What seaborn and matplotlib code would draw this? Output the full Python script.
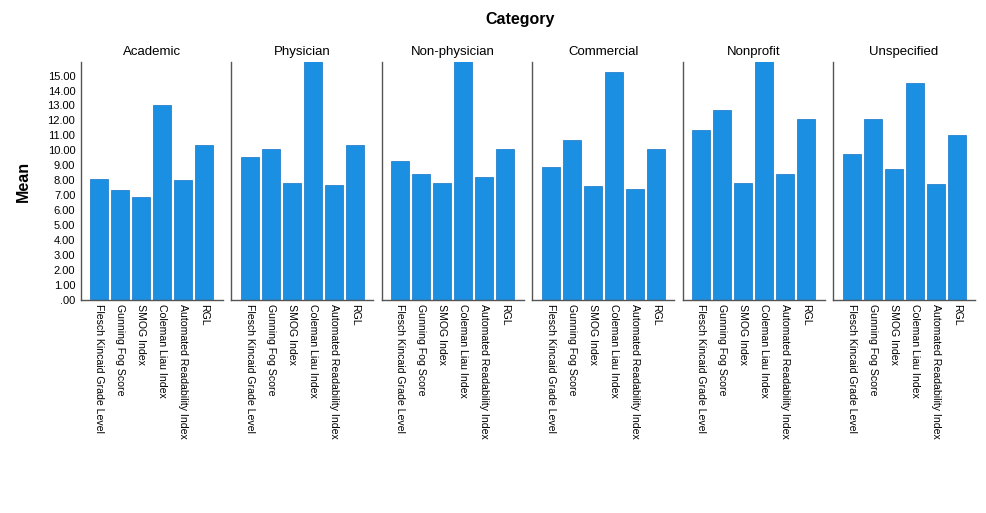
import pandas as pd
import matplotlib
matplotlib.use('Agg')
import matplotlib.pyplot as plt
import seaborn as sns

# ── Data ─────────────────────────────────────────────────────────────────────
categories = ['Academic', 'Physician', 'Non-physician', 'Commercial', 'Nonprofit', 'Unspecified']
measures = ['Flesch Kincaid Grade Level', 'Gunning Fog Score', 'SMOG Index',
            'Coleman Liau Index', 'Automated Readability Index', 'RGL']

academic = [8.07, 7.33, 6.87, 13.04, 8.04, 10.38]
physician = [9.56, 10.09, 7.82, 16.60, 7.71, 10.33]
non_physician = [9.29, 8.44, 7.84, 16.90, 8.22, 10.07]
commercial = [8.89, 10.67, 7.64, 15.27, 7.44, 10.07]
nonprofit = [11.38, 12.67, 7.84, 17.20, 8.44, 12.07]
unspecified = [9.76, 12.07, 8.78, 14.49, 7.73, 11.04]

y_ticks = [i for i in range(16)]
y_tick_labels = ['.00'] + [f'{i}.00' for i in range(1, 16)]

series = [academic, physician, non_physician, commercial, nonprofit, unspecified]
df = pd.DataFrame([
    {'Category': c, 'Measure': m, 'Mean': v}
    for c, vals in zip(categories, series)
    for m, v in zip(measures, vals)
])

# ── Plot ──────────────────────────────────────────────────────────────────────
sns.set_style('white')
plt.rcParams['font.family'] = ['Liberation Sans', 'DejaVu Sans']
plt.rcParams.update({'text.color': 'black', 'axes.labelcolor': 'black',
                     'xtick.color': 'black', 'ytick.color': 'black'})

fig = plt.figure(figsize=(9.86, 5.13), dpi=100)
left, right, bottom, top = 0.082, 0.989, 0.415, 0.879
gap = 0.0085
width = (right - left - gap * 5) / 6

bar_color = '#1b8fe2'
for i, cat in enumerate(categories):
    ax = fig.add_axes([left + i * (width + gap), bottom, width, top - bottom])
    sub = df[df['Category'] == cat]
    sns.barplot(data=sub, x='Measure', y='Mean', order=measures, color=bar_color,
                width=0.86, saturation=1, edgecolor='#1273c8', linewidth=0.5, ax=ax)
    ax.set_ylim(0, 15.9)
    ax.set_xlim(-0.88, 5.88)
    ax.set_title(cat, fontsize=9.5, pad=5)
    ax.set_xlabel('')
    ax.set_xticks(range(len(measures)))
    ax.set_xticklabels(measures, rotation=-90, fontsize=7.6, va='top', ha='center')
    ax.tick_params(axis='both', length=0, pad=3)
    for s in ['top', 'right']:
        ax.spines[s].set_visible(False)
    for s in ['left', 'bottom']:
        ax.spines[s].set_color('#555555')
        ax.spines[s].set_linewidth(1.0)
    if i == 0:
        ax.set_yticks(y_ticks)
        ax.set_yticklabels(y_tick_labels, fontsize=8)
        ax.tick_params(axis='y', pad=4)
        ax.set_ylabel('Mean', fontsize=11.5, fontweight='bold', labelpad=12)
    else:
        ax.set_yticks([])
        ax.set_ylabel('')

fig.text(0.527, 0.962, 'Category', ha='center', va='center', fontsize=11.5, fontweight='bold')

plt.savefig('out.png', dpi=100)
plt.close()
